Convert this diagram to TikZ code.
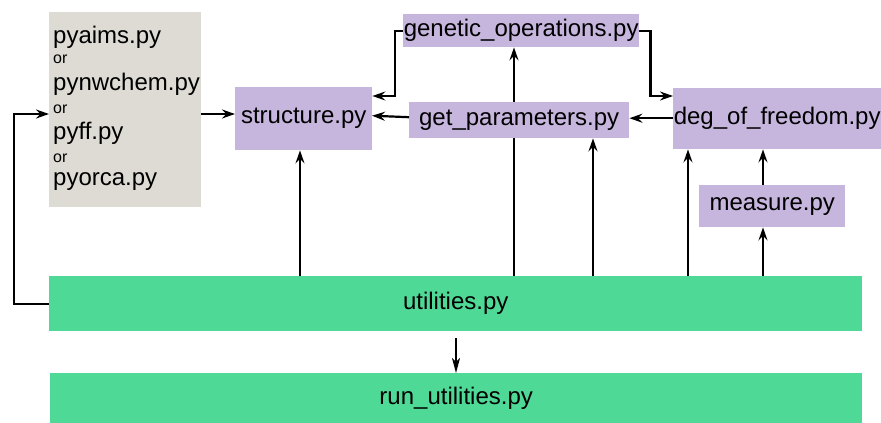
\documentclass[tikz,border=0pt]{standalone}
\usepackage{fontspec}
\setmainfont{Liberation Sans}
\usetikzlibrary{arrows.meta,calc}
\definecolor{purp}{HTML}{C6B5DD}
\definecolor{grayb}{HTML}{DEDBD4}
\definecolor{grn}{HTML}{4FD996}
\begin{document}
\begin{tikzpicture}[x=1pt,y=-1pt,
  big/.style={font=\fontsize{24}{28}\selectfont},
  small/.style={font=\fontsize{16}{18}\selectfont},
  pbox/.style={big,fill=purp,inner sep=0pt,anchor=north west},
  gbox/.style={big,fill=grn,inner sep=0pt,anchor=north west},
  txt/.style={inner sep=0pt,anchor=west},
  arr/.style={line width=2.2pt,-{Stealth[length=13pt,width=9pt,inset=4.5pt]}},
  arrb/.style={line width=1.7pt,-{Stealth[length=15pt,width=8pt,inset=4pt]}}]
\useasboundingbox (0,0) rectangle (881,423);
\node[fill=grayb,inner sep=0pt,anchor=north west,minimum width=152pt,minimum height=195pt] (grey) at (49,12) {};
\node[txt,big] (t1) at (53,37) {pyaims.py};
\node[txt,small] (o1) at (53,59) {or};
\node[txt,big] (t2) at (53,84) {pynwchem.py};
\node[txt,small] (o2) at (53,109) {or};
\node[txt,big] (t3) at (53,133) {pyff.py};
\node[txt,small] (o3) at (53,158) {or};
\node[txt,big] (t4) at (53,182) {pyorca.py};

\node[pbox,minimum width=137pt,minimum height=63pt] (struct) at (235,87) {structure.py};
\node[pbox,minimum width=236pt,minimum height=33pt] (gen) at (403,14) {genetic\_operations.py};
\node[pbox,minimum width=208pt,minimum height=61pt] (deg) at (673,88) {deg\_of\_freedom.py};
\node[pbox,minimum width=146pt,minimum height=42pt] (meas) at (699,185) {measure.py};
\node[gbox,minimum width=813pt,minimum height=55pt] (util) at (49,276) {utilities.py};
\node[gbox,minimum width=812pt,minimum height=50pt] (run) at (50,373) {run\_utilities.py};

% utilities -> genetic (passes behind get_parameters)
\draw[arr] ($(util.north west)+(465,0)$) -- ($(gen.south west)+(111,0)$);
\node[pbox,minimum width=220pt,minimum height=36pt] (gp) at (409,102) {get\_parameters.py};

\coordinate (gs) at ($(grey.north east)+(0,102)$);
\draw[arr] (gs) -- (struct.west |- gs);
\draw[arr] (util.west) -- ++(-35,0) |- (grey.west |- gs);
\draw[arr] (gen.west) -- ++(-8,0) |- ($(struct.north east)+(0,9)$);
\draw[arr] (gen.east) -- ++(11,0) |- ($(deg.north west)+(0,8)$);
\draw[arr] ($(gp.west)+(0,-3)$) -- ($(struct.west)+(137,-3)$);
\draw[arr] ($(deg.west)+(0,-0.5)$) -- ($(gp.east)+(0,-2)$);
\draw[arr] ($(util.north west)+(251,0)$) -- ($(struct.south west)+(65,0)$);
\draw[arr] ($(util.north west)+(544,0)$) -- ($(gp.south west)+(184,0)$);
\draw[arr] ($(util.north west)+(639,0)$) -- ($(deg.south west)+(15,0)$);
\draw[arr] ($(util.north west)+(714,0)$) -- ($(meas.south west)+(64,0)$);
\draw[arr] ($(meas.north west)+(64,0)$) -- ($(deg.south west)+(90,0)$);
\draw[arrb] ($(util.south west)+(407,7)$) -- ($(run.north west)+(406,0)$);
\end{tikzpicture}
\end{document}
